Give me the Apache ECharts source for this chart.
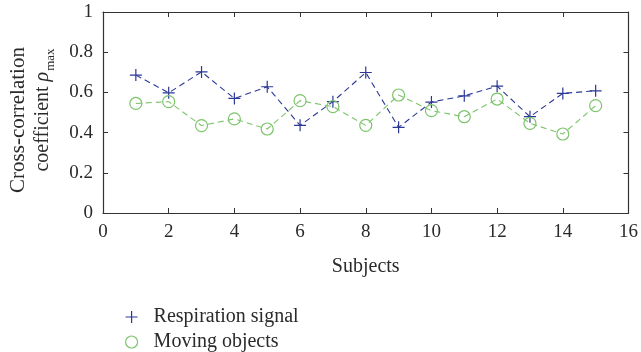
<!DOCTYPE html>
<html><head><meta charset="utf-8">
<script src="https://cdn.jsdelivr.net/npm/echarts@6/dist/echarts.min.js"></script>
<style>html,body{margin:0;padding:0;background:#fff}#c{width:641px;height:352px}</style>
</head><body><div id="c"></div>
<script>
const subjects = [1,2,3,4,5,6,7,8,9,10,11,12,13,14,15];
const respiration = [0.686,0.598,0.702,0.570,0.628,0.436,0.554,0.699,0.426,0.552,0.583,0.631,0.479,0.595,0.608];
const moving = [0.545,0.554,0.435,0.468,0.418,0.559,0.529,0.436,0.587,0.509,0.479,0.567,0.446,0.393,0.534];
const xTicks = [0,2,4,6,8,10,12,14,16];
const yTicks = [0,0.2,0.4,0.6,0.8,1];
const seriesNames = ['Respiration signal','Moving objects'];
const yTitle = ['Cross-correlation','coefficient '];

const blue = '#2b3896', green = '#7dc46c', axisCol = '#333', txt = '#2a2a2a';
const font = 'Liberation Serif';
const fs = 19, fsT = 20;
const plus = 'path://M5 0L5 10M0 5L10 5';
const chart = echarts.init(document.getElementById('c'));
const common = {axisLine:{show:true,onZero:false,lineStyle:{color:axisCol,width:1.2}}, axisTick:{show:true,inside:true,length:5,lineStyle:{color:axisCol}}, splitLine:{show:false}};
chart.setOption({
  animation:false,
  textStyle:{fontFamily:font},
  grid:{left:103,right:11,top:12,bottom:139,containLabel:false},
  xAxis:[
    Object.assign({type:'value',min:xTicks[0],max:xTicks[xTicks.length-1],interval:2,position:'bottom',name:'Subjects',nameLocation:'middle',nameGap:44,
      nameTextStyle:{fontFamily:font,fontSize:fsT,color:txt},
      axisLabel:{fontFamily:font,fontSize:fs,color:txt,margin:10}},common),
    Object.assign({type:'value',min:xTicks[0],max:xTicks[xTicks.length-1],interval:2,position:'top',axisLabel:{show:false}},common)
  ],
  yAxis:[
    Object.assign({type:'value',min:yTicks[0],max:yTicks[yTicks.length-1],interval:0.2,position:'left',
      axisLabel:{fontFamily:font,fontSize:fs,color:txt,margin:10,formatter:v=>String(+v.toFixed(1))}},common),
    Object.assign({type:'value',min:yTicks[0],max:yTicks[yTicks.length-1],interval:0.2,position:'right',axisLabel:{show:false}},common)
  ],
  graphic:[
    {type:'text',x:18,y:120,rotation:Math.PI/2,style:{text:yTitle[0],font:'21px "'+font+'"',fill:txt,align:'center',verticalAlign:'middle'}},
    {type:'text',x:42,y:110,rotation:Math.PI/2,style:{text:'{a|'+yTitle[1]+'}{i|ρ}{s|max}',align:'center',verticalAlign:'middle',
      rich:{a:{fontFamily:font,fontSize:fsT,fill:txt,lineHeight:22,verticalAlign:'bottom'},
            i:{fontFamily:font,fontSize:fsT,fontStyle:'italic',fill:txt,lineHeight:22,verticalAlign:'bottom'},
            s:{fontFamily:font,fontSize:13,fill:txt,lineHeight:22,verticalAlign:'bottom',padding:[0,0,-4,1]}}}}
  ],
  legend:[
    {left:120,top:302,itemWidth:12,itemHeight:12,textStyle:{fontFamily:font,fontSize:fsT,color:txt,padding:[0,0,0,11]},
      data:[{name:seriesNames[0],icon:plus,itemStyle:{color:'rgba(0,0,0,0)',borderColor:blue,borderWidth:1.2}}]},
    {left:120,top:327,itemWidth:12,itemHeight:12,textStyle:{fontFamily:font,fontSize:fsT,color:txt,padding:[0,0,0,11]},
      data:[{name:seriesNames[1],icon:'circle',itemStyle:{color:'rgba(0,0,0,0)',borderColor:green,borderWidth:1.2}}]}
  ],
  series:[
    {name:seriesNames[0],type:'line',data:subjects.map((s,i)=>[s,respiration[i]]),symbol:plus,symbolSize:12,
      itemStyle:{color:'rgba(0,0,0,0)',borderColor:blue,borderWidth:1.2},lineStyle:{color:blue,width:1.1,type:[6,4]}},
    {name:seriesNames[1],type:'line',data:subjects.map((s,i)=>[s,moving[i]]),symbol:'circle',symbolSize:12,
      itemStyle:{color:'rgba(0,0,0,0)',borderColor:green,borderWidth:1.2},lineStyle:{color:green,width:1.1,type:[6,4]}}
  ]
});
</script></body></html>
